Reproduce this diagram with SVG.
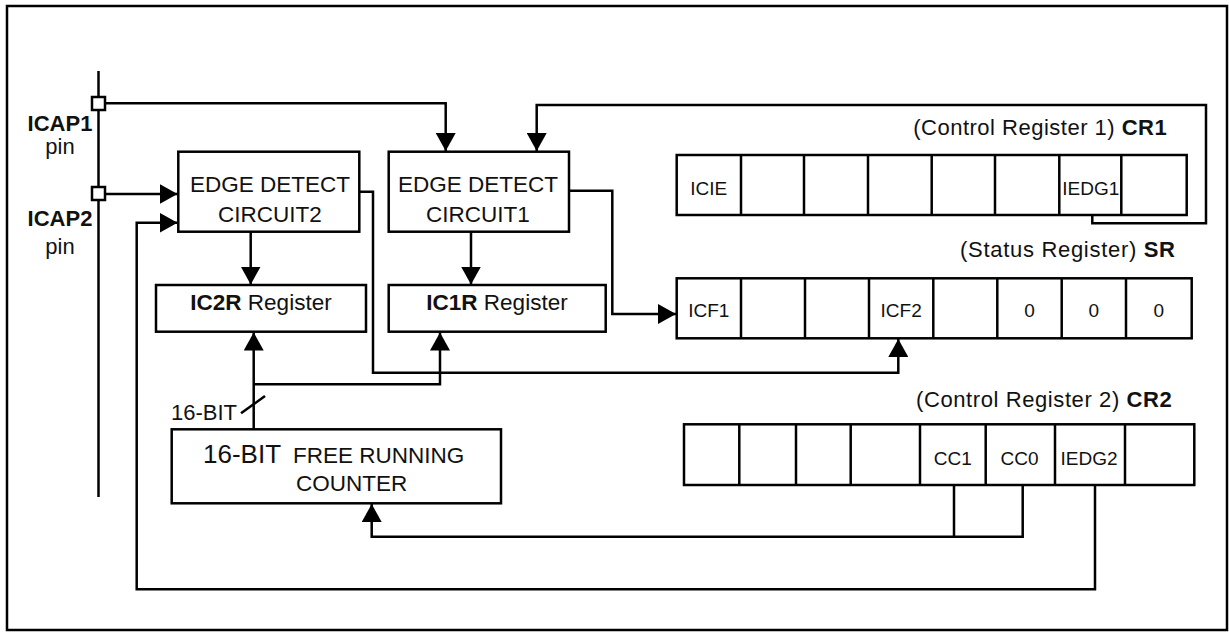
<svg xmlns="http://www.w3.org/2000/svg" width="1229" height="632" viewBox="0 0 1229 632">
<style>
.ln{fill:none;stroke:#000;stroke-width:2.5}
.bx{fill:#fff;stroke:#000;stroke-width:2.5}
.t{font-family:"Liberation Sans",Arial,sans-serif;fill:#111}
.big{font-size:22.5px}
.cell{font-size:19px;text-anchor:middle}
.lab{font-size:22px}
.b{font-weight:bold}
</style>
<defs>
<marker id="ah" markerUnits="userSpaceOnUse" markerWidth="18" markerHeight="20" viewBox="0 0 18 20" refX="18" refY="10" orient="auto">
<path d="M0,0 L18,10 L0,20 z" fill="#000"/>
</marker>
</defs>
<rect x="7" y="6" width="1220" height="624" class="ln"/>

<g id="connectors">
<path class="ln" d="M98.5,71 V497"/>
<path class="ln" d="M105,103.3 H445.7 V151" marker-end="url(#ah)"/>
<path class="ln" d="M105,194 H177.5" marker-end="url(#ah)"/>
<path class="ln" d="M1092.3,214 V223.3 H1206 V105 H536.7 V151" marker-end="url(#ah)"/>
<path class="ln" d="M250.7,232 V284.5" marker-end="url(#ah)"/>
<path class="ln" d="M471,232 V284.5" marker-end="url(#ah)"/>
<path class="ln" d="M569,190.7 H612.3 V314 H676" marker-end="url(#ah)"/>
<path class="ln" d="M359.3,191.7 H373 V372.7 H898.3 V339" marker-end="url(#ah)"/>
<path class="ln" d="M253.7,429.3 V332.5" marker-end="url(#ah)"/>
<path class="ln" d="M253.7,384.3 H440 V332.5" marker-end="url(#ah)"/>
<path class="ln" d="M241,413.3 L265,396" stroke-width="1.5"/>
<path class="ln" d="M954,485 V536.7 H371.7 V504" marker-end="url(#ah)"/>
<path class="ln" d="M1022.7,485 V536.7 H954"/>
<path class="ln" d="M1095,483.3 V589.3 H136.7 V222.7 H177.5" marker-end="url(#ah)"/>
<rect class="bx" x="92" y="97" width="13" height="13"/>
<rect class="bx" x="92" y="187" width="13" height="13"/>
</g>

<g id="pins">
<text class="t b" x="60" y="131" font-size="22" text-anchor="middle">ICAP1</text>
<text class="t" x="60" y="154" font-size="22" text-anchor="middle">pin</text>
<text class="t b" x="60" y="226" font-size="22" text-anchor="middle">ICAP2</text>
<text class="t" x="60" y="254" font-size="22" text-anchor="middle">pin</text>
</g>

<g id="edge2">
<rect class="bx" x="178.3" y="151.7" width="181" height="80"/>
<text class="t big" x="270" y="191.7" text-anchor="middle">EDGE DETECT</text>
<text class="t big" x="270" y="222" text-anchor="middle">CIRCUIT2</text>
</g>

<g id="edge1">
<rect class="bx" x="388.7" y="151.7" width="180.3" height="80"/>
<text class="t big" x="478" y="191.7" text-anchor="middle">EDGE DETECT</text>
<text class="t big" x="478" y="222" text-anchor="middle">CIRCUIT1</text>
</g>

<g id="ic2r">
<rect class="bx" x="156" y="285" width="210" height="46.7"/>
<text class="t big" x="261" y="310" text-anchor="middle"><tspan class="b">IC2R</tspan> Register</text>
</g>

<g id="ic1r">
<rect class="bx" x="388.7" y="285" width="217" height="46.7"/>
<text class="t big" x="497" y="310" text-anchor="middle"><tspan class="b">IC1R</tspan> Register</text>
</g>

<g id="counter">
<rect class="bx" x="171.7" y="429.3" width="329.3" height="74"/>
<text class="t" x="203" y="463.3" font-size="26">16-BIT</text>
<text class="t big" x="293" y="463.3">FREE RUNNING</text>
<text class="t big" x="296" y="490.7">COUNTER</text>
<text class="t" x="171" y="420" font-size="22">16-BIT</text>
</g>

<g id="cr1">
<text class="t lab" x="913.3" y="135" textLength="253.4" lengthAdjust="spacing">(Control Register 1) <tspan class="b">CR1</tspan></text>
<rect class="bx" x="676.7" y="155" width="510" height="60"/>
<path class="ln" d="M741,155 V215 M804,155 V215 M868,155 V215 M931.7,155 V215 M995,155 V215 M1059.3,155 V215 M1121.3,155 V215"/>
<text class="t cell" x="708.8" y="195">ICIE</text>
<text class="t cell" x="1090.8" y="195">IEDG1</text>
</g>

<g id="sr">
<text class="t lab" x="960" y="256.7" textLength="215" lengthAdjust="spacing">(Status Register) <tspan class="b">SR</tspan></text>
<rect class="bx" x="676.7" y="278.3" width="515" height="60"/>
<path class="ln" d="M741,278.3 V338.3 M805,278.3 V338.3 M869,278.3 V338.3 M933.3,278.3 V338.3 M997.3,278.3 V338.3 M1061.7,278.3 V338.3 M1126,278.3 V338.3"/>
<text class="t cell" x="708.8" y="316.7">ICF1</text>
<text class="t cell" x="901.2" y="316.7">ICF2</text>
<text class="t cell" x="1029.5" y="316.7">0</text>
<text class="t cell" x="1093.9" y="316.7">0</text>
<text class="t cell" x="1158.9" y="316.7">0</text>
</g>

<g id="cr2">
<text class="t lab" x="916" y="407.3" textLength="255.7" lengthAdjust="spacing">(Control Register 2) <tspan class="b">CR2</tspan></text>
<rect class="bx" x="684" y="424.3" width="510.3" height="60.7"/>
<path class="ln" d="M739.3,424.3 V485 M796,424.3 V485 M850.7,424.3 V485 M920,424.3 V485 M985.7,424.3 V485 M1055,424.3 V485 M1125,424.3 V485"/>
<text class="t cell" x="952.8" y="465">CC1</text>
<text class="t cell" x="1019.5" y="465">CC0</text>
<text class="t cell" x="1089" y="465">IEDG2</text>
</g>
</svg>
